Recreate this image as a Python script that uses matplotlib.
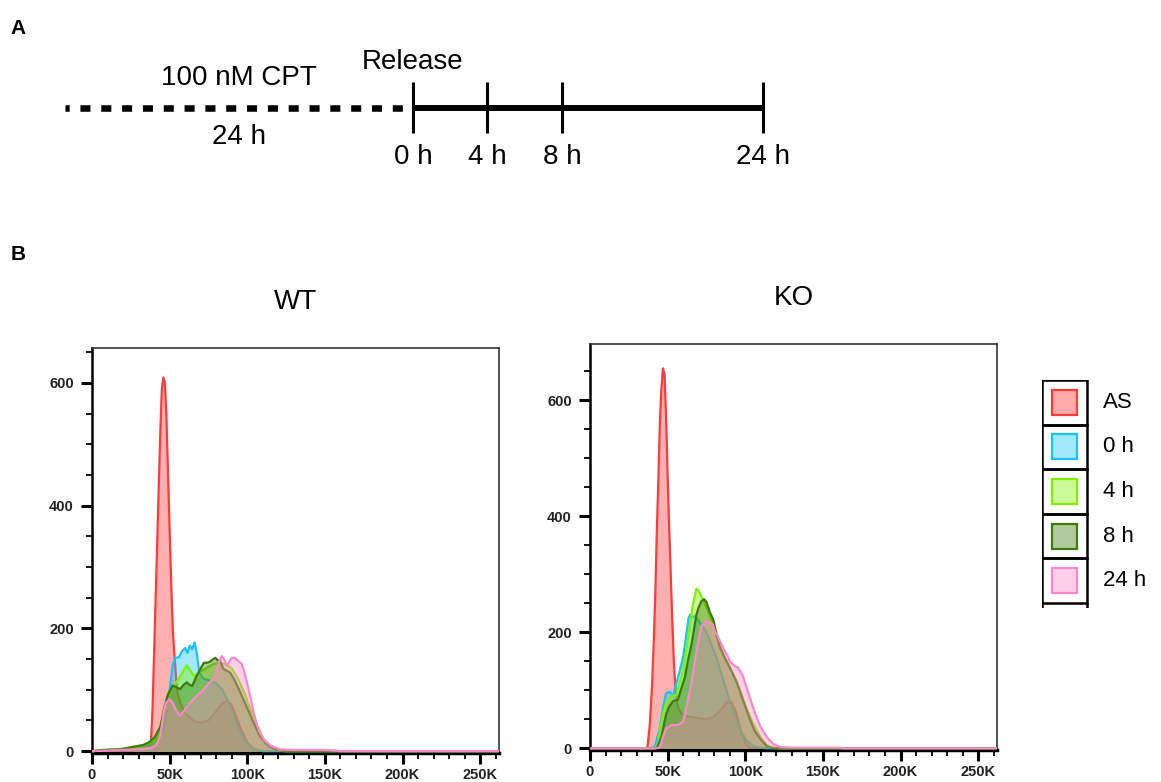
import matplotlib
matplotlib.use('Agg')
import matplotlib.pyplot as plt
from matplotlib.patches import Rectangle
from matplotlib.ticker import MultipleLocator, FuncFormatter

plt.rcParams['font.family'] = ['Liberation Sans', 'DejaVu Sans']

# panel A: release schedule (schematic spacing, not to scale)
release_labels = ['0 h', '4 h', '8 h', '24 h']
release_pos = [0, 1, 2, 4.7]
cpt_start = -4.67
cpt_label = '100 nM CPT'
cpt_time = '24 h'

# panel B: legend
series_names = ['AS', '0 h', '4 h', '8 h', '24 h']
series_colors = ['#ff3b3b', '#19c3f5', '#80f000', '#3f7a0a', '#ff88c8']
swatch_fill = ['#ffaaaa', '#a3e8fb', '#ccf999', '#b2ca9d', '#ffcfe9']

# DNA content (K) and cell count
wt_as_x = [0, 30, 36, 38, 39, 40, 41, 42, 43, 44, 45, 46, 47, 48, 49, 50, 51, 52, 53, 54, 55, 57,
           60, 65, 70, 75, 80, 84, 87, 90, 93, 96, 100, 104, 108, 262]
wt_as_y = [0, 2, 6, 15, 70, 160, 250, 340, 430, 520, 590, 609, 600, 540, 450, 360, 275, 200, 160, 125, 95, 78,
           62, 50, 46, 50, 65, 78, 82, 75, 55, 35, 14, 4, 0, 0]

wt_0h_x = [0, 10, 20, 30, 38, 42, 46, 48, 50, 52, 53.5, 56, 58, 60, 61.5, 63, 64.5, 66, 67.5, 69, 71,
           72, 76, 80, 84, 88, 92, 96, 100, 104, 110, 262]
wt_0h_y = [0, 2, 3, 6, 12, 20, 35, 65, 100, 140, 152, 153, 163, 168, 160, 172, 166, 177, 160, 130, 120,
           118, 115, 110, 100, 80, 55, 28, 12, 4, 0, 0]

wt_4h_x = [0, 10, 20, 30, 38, 42, 45, 48, 50, 53, 56, 59, 61, 63, 66, 70, 74, 78, 82, 86, 90, 94, 98,
           102, 106, 110, 114, 118, 124, 262]
wt_4h_y = [0, 2, 3, 6, 14, 22, 40, 75, 95, 108, 118, 132, 140, 132, 122, 130, 136, 142, 144, 142, 135, 118, 96,
           68, 44, 22, 9, 3, 0, 0]

wt_8h_x = [0, 7, 18, 26, 33, 37, 40.5, 44, 47, 49, 52, 54.5, 56.7, 59, 61, 63, 64.5, 67.5, 70, 72, 74, 76,
           78, 79.5, 81, 82.5, 84.7, 89, 92, 95.5, 100, 104, 108, 113, 118, 124, 262]
wt_8h_y = [0, 2, 3, 7, 10, 15, 23, 40, 75, 93, 107, 104, 101, 108, 112, 108, 106, 123, 135, 144, 144, 146,
           150, 152, 148, 147, 134, 128, 115, 96, 70, 47, 25, 10, 3, 0, 0]

wt_24h_x = [0, 10, 20, 30, 38, 41.6, 44, 46, 47.5, 50, 52, 54.5, 56.7, 58.8, 62, 65, 67.5, 71, 74, 78, 80,
            81.5, 83.6, 85, 86.9, 88.5, 90, 92, 93.5, 96.5, 98, 99.8, 102, 104, 106, 108, 111, 115, 121,
            130, 150, 156, 160, 262]
wt_24h_y = [0, 1, 2, 3, 5, 10, 26, 60, 78, 85, 78, 65, 58, 64, 75, 84, 90, 98, 107, 117, 128,
            144, 155, 150, 139, 146, 152, 152, 149, 142, 130, 112, 88, 64, 45, 31, 18, 9, 3,
            2, 2, 1, 0, 0]

# DNA content (K) and cell count
ko_as_x = [0, 36, 37, 38.5, 40, 41, 42, 43, 44, 45, 46, 47, 48, 49, 50, 51, 52, 53, 54, 55, 56, 57, 59,
           62, 66, 70, 75, 80, 85, 88, 91, 94, 97, 100, 103, 106, 262]
ko_as_y = [0, 0, 2, 40, 110, 180, 260, 370, 460, 560, 620, 655, 645, 570, 470, 380, 300, 220, 150, 105, 80, 68, 60,
           55, 54, 52, 50, 55, 68, 79, 80, 62, 32, 9, 1, 0, 0]

ko_0h_x = [0, 40, 42, 45, 47, 49, 51.7, 53.4, 55.6, 58, 60, 62, 63.5, 64.5, 66, 67.5, 69.7, 72, 75, 78, 81,
           85, 89, 93, 97, 101, 105, 110, 114, 262]
ko_0h_y = [0, 0, 5, 35, 70, 95, 97, 89, 112, 135, 158, 195, 225, 230, 226, 228, 221, 212, 200, 180, 160,
           125, 90, 58, 30, 13, 4, 1, 0, 0]

ko_4h_x = [0, 42, 44, 47, 49, 51.3, 53, 55.6, 58, 60, 62, 64.3, 66, 67.5, 68.5, 69.7, 71, 72.5, 75, 78, 80,
           83, 86, 90, 94, 97, 100, 103, 106, 110, 114, 118, 122, 262]
ko_4h_y = [0, 0, 10, 60, 78, 87, 90, 92, 115, 135, 170, 210, 245, 262, 275, 273, 265, 258, 242, 222, 212,
           185, 160, 138, 118, 98, 75, 55, 38, 18, 5, 1, 0, 0]

ko_8h_x = [0, 43, 46, 49, 51, 53.4, 56.7, 59, 61, 63, 65.4, 67, 68.6, 70, 71.8, 73.5, 75, 77.3, 79.4, 81.5,
           83.8, 87, 90, 94.6, 98.9, 103, 106, 109.7, 114, 118, 262]
ko_8h_y = [0, 0, 20, 58, 72, 81, 84, 105, 121, 150, 179, 205, 231, 243, 254, 257, 252, 234, 222, 195,
           173, 155, 140, 113, 80, 50, 30, 16, 3, 0, 0]

ko_24h_x = [0, 43, 45, 47, 49, 52.4, 56.7, 60, 62, 64.3, 67.5, 69.7, 71.8, 74, 77.3, 79, 80.5, 82, 83.8, 87,
            88.5, 90.3, 92, 93.5, 95, 96.8, 98.5, 100, 103, 106.5, 110, 114, 118.3, 122.7, 130, 160, 163, 262]
ko_24h_y = [0, 0, 2, 20, 34, 40, 40, 46, 70, 98, 149, 184, 210, 219, 216, 214, 201, 195, 184, 167,
            160, 149, 145, 141, 140, 133, 125, 112, 87, 59, 36, 19, 7, 2, 1, 1, 0, 0]

wt_x = [wt_as_x, wt_0h_x, wt_4h_x, wt_8h_x, wt_24h_x]
wt_y = [wt_as_y, wt_0h_y, wt_4h_y, wt_8h_y, wt_24h_y]
ko_x = [ko_as_x, ko_0h_x, ko_4h_x, ko_8h_x, ko_24h_x]
ko_y = [ko_as_y, ko_0h_y, ko_4h_y, ko_8h_y, ko_24h_y]


def k_label(v, pos):
    return '0' if v == 0 else '%dK' % round(v / 1000)


def draw_histograms(ax, xs, ys, title, ymax):
    for i, (x, y) in enumerate(zip(xs, ys)):
        xv = [v * 1000 for v in x]
        ax.fill_between(xv, y, color=series_colors[i], alpha=0.4, lw=0, zorder=2 + i)
        ax.plot(xv, y, color=series_colors[i], lw=1.6, zorder=2 + i)
    ax.set_xlim(0, 262144)
    ax.set_ylim(-3, ymax)
    ax.set_title(title, fontsize=20, pad=28)
    ax.xaxis.set_major_locator(MultipleLocator(50000))
    ax.xaxis.set_minor_locator(MultipleLocator(10000))
    ax.xaxis.set_major_formatter(FuncFormatter(k_label))
    ax.yaxis.set_major_locator(MultipleLocator(200))
    ax.yaxis.set_minor_locator(MultipleLocator(50))
    ax.tick_params(which='major', direction='out', length=8, width=2.2,
                   labelsize=10.5, labelcolor='#222222')
    ax.tick_params(which='minor', direction='out', length=4.5, width=1.3)
    ax.tick_params(axis='y', which='major', pad=5)
    ax.tick_params(axis='x', which='major', pad=3)
    for lab in ax.get_xticklabels() + ax.get_yticklabels():
        lab.set_fontweight('bold')
    for side in ['top', 'right']:
        ax.spines[side].set_linewidth(1.2)
        ax.spines[side].set_color('#333333')
    ax.spines['left'].set_linewidth(1.8)
    ax.spines['bottom'].set_linewidth(2.5)


fig = plt.figure(figsize=(11.61, 7.82), dpi=100)

# ---- panel A: treatment timeline
ax_a = fig.add_axes([0, 0.70, 1, 0.30])
ax_a.set_xlim(-413 / 74.5, (1161 - 413) / 74.5)
ax_a.set_ylim(0.30 * 782, 0)
ax_a.axis('off')
ax_a.plot([cpt_start, release_pos[0]], [108, 108], color='black', lw=4.7,
          linestyle=(0.9, (1.54, 1.65)), solid_capstyle='butt', dash_capstyle='butt')
ax_a.plot([release_pos[0], release_pos[-1]], [108, 108], color='black', lw=4.3,
          solid_capstyle='butt')
ax_a.vlines(release_pos, 82, 133, color='black', lw=2.2)
for p, lab in zip(release_pos, release_labels):
    ax_a.text(p, 157, lab, ha='center', va='center', fontsize=20)
ax_a.text(release_pos[0], 62, 'Release', ha='center', va='center', fontsize=20)
ax_a.text((cpt_start + release_pos[0]) / 2, 78, cpt_label, ha='center', va='center', fontsize=20)
ax_a.text((cpt_start + release_pos[0]) / 2, 137, cpt_time, ha='center', va='center', fontsize=20)

fig.text(18 / 1161, 1 - 28 / 782, 'A', fontsize=15, fontweight='bold', ha='center', va='center')
fig.text(18 / 1161, 1 - 255 / 782, 'B', fontsize=15, fontweight='bold', ha='center', va='center')

# ---- panel B: histograms
ax_wt = fig.add_axes([92 / 1161, 29 / 782, 407 / 1161, 405 / 782])
draw_histograms(ax_wt, wt_x, wt_y, 'WT', 657)
ax_ko = fig.add_axes([590 / 1161, 32 / 782, 407 / 1161, 406 / 782])
draw_histograms(ax_ko, ko_x, ko_y, 'KO', 697)

# ---- legend as a column of boxed swatches
ax_leg = fig.add_axes([1042 / 1161, (782 - 608) / 782, 119 / 1161, 228 / 782])
ax_leg.set_xlim(0, 119)
ax_leg.set_ylim(228, 0)
ax_leg.axis('off')
row_h = 44.6
cell_w = 45
for i, name in enumerate(series_names):
    top = i * row_h
    ax_leg.add_patch(Rectangle((0, top), cell_w, row_h, fill=False, ec='black', lw=1.8))
    ax_leg.add_patch(Rectangle((cell_w / 2 - 12.5, top + row_h / 2 - 12.5), 25, 25,
                               fc=swatch_fill[i], ec=series_colors[i], lw=1.6))
    ax_leg.text(61, top + row_h / 2, name, ha='left', va='center', fontsize=16)
ax_leg.vlines([0, cell_w], 5 * row_h, 228, color='black', lw=1.8)

fig.savefig('out.png', dpi=100)
